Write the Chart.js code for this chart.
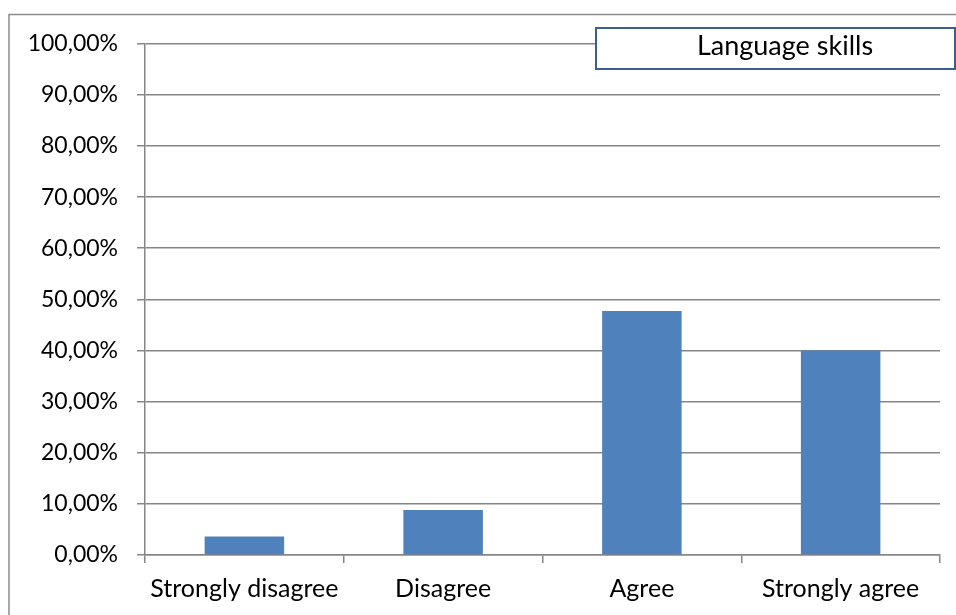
<!DOCTYPE html>
<html>
<head>
<meta charset="utf-8">
<script src="https://cdn.jsdelivr.net/npm/chart.js@4.4.0/dist/chart.umd.min.js"></script>
<style>
  html, body { margin: 0; padding: 0; background: #fff; }
  #wrap { width: 956px; height: 615px; }
</style>
</head>
<body>
<div id="wrap"><canvas id="chart" width="956" height="615"></canvas></div>
<script>
// Chart data
const categories = ['Strongly disagree', 'Disagree', 'Agree', 'Strongly agree'];
const seriesName = 'Language skills';
const seriesValues = [3.6, 8.8, 47.7, 40.0];
const yTicks = [0, 10, 20, 30, 40, 50, 60, 70, 80, 90, 100];

const FONT = 'Lato, "Open Sans", sans-serif';

// outer frame + legend box, drawn by hand like the Excel export
const framePlugin = {
    id: 'frame',
    beforeDraw(chart) {
        const ctx = chart.ctx;
        ctx.save();
        ctx.fillStyle = '#fff';
        ctx.fillRect(0, 0, chart.width, chart.height);
        ctx.strokeStyle = '#8a8a8a';
        ctx.lineWidth = 1.5;
        ctx.strokeRect(9, 14.5, 1000, 1000);
        ctx.restore();
    },
    afterDraw(chart) {
        const ctx = chart.ctx;
        ctx.save();
        ctx.fillStyle = '#fff';
        ctx.fillRect(596, 28, 359, 41);
        ctx.strokeStyle = '#3b5f8c';
        ctx.lineWidth = 2;
        ctx.strokeRect(596, 28, 359, 41);
        ctx.fillStyle = '#000';
        ctx.font = '27px ' + FONT;
        ctx.textAlign = 'center';
        ctx.textBaseline = 'middle';
        ctx.fillText(chart.data.datasets[0].label, 785, 46);
        ctx.restore();
    }
};

const chart = new Chart(document.getElementById('chart'), {
    type: 'bar',
    data: {
        labels: categories,
        datasets: [{
            label: seriesName,
            data: seriesValues,
            backgroundColor: '#4f81bd',
            categoryPercentage: 1,
            barPercentage: 0.4
        }]
    },
    options: {
        responsive: false,
        animation: false,
        layout: { padding: { top: 43.7, right: 16, left: 0, bottom: 0 } },
        plugins: {
            legend: { display: false },
            tooltip: { enabled: false }
        },
        scales: {
            x: {
                afterFit(scale) { scale.height = 60; },
                grid: {
                    offset: true,
                    drawOnChartArea: false,
                    drawTicks: true,
                    tickLength: 8,
                    color: '#868686',
                    lineWidth: 1.5
                },
                border: { color: '#868686', width: 1.5 },
                ticks: {
                    color: '#000',
                    padding: 11,
                    font: { family: FONT, size: 25 }
                }
            },
            y: {
                min: 0,
                max: 100,
                afterFit(scale) { scale.width = 145; },
                afterBuildTicks(scale) {
                    scale.ticks = yTicks.map(v => ({ value: v }));
                },
                grid: {
                    color: '#868686',
                    lineWidth: 1.5,
                    tickLength: 8
                },
                border: { color: '#868686', width: 1.5 },
                ticks: {
                    color: '#000',
                    padding: 19,
                    font: { family: FONT, size: 23 },
                    callback: v => v.toFixed(2).replace('.', ',') + '%'
                }
            }
        }
    },
    plugins: [framePlugin]
});
</script>
</body>
</html>
